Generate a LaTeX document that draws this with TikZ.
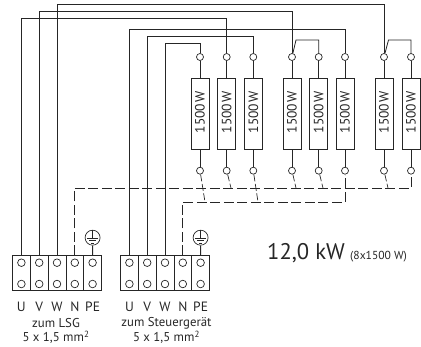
\documentclass[tikz,border=0pt]{standalone}
\usepackage{fontspec}
\setmainfont{PT Sans}
\tikzset{
  x=1pt,y=-1pt,
  wire/.style={draw=black!85,line width=0.8pt},
  nwire/.style={draw=black!85,line width=0.7pt,dash pattern=on 10pt off 3.5pt},
  nstub/.style={draw=black!85,line width=0.7pt,dash pattern=on 7pt off 2.5pt},
  ringc/.style={circle,draw=black!85,fill=white,line width=0.7pt,inner sep=0pt,minimum size=7pt},
  heater/.style={rectangle,draw=black!85,fill=white,line width=0.8pt,minimum width=18pt,minimum height=71pt,inner sep=0pt},
  hlabel/.style={rotate=90,font=\fontsize{13.5}{14}\selectfont,text=black!85,inner sep=0pt},
  cell/.style={rectangle,draw=black!85,line width=0.7pt,minimum width=17.8pt,minimum height=35pt,inner sep=0pt},
  lab/.style={font=\fontsize{12.8}{13}\selectfont,text=black!85,inner sep=0pt},
  gnd/.style={circle,draw=black!85,line width=0.7pt,inner sep=0pt,minimum size=15pt},
}
\begin{document}
\begin{tikzpicture}
\useasboundingbox (0,0) rectangle (421,347);
% heaters
\foreach \n/\x in {1/200,2/226.7,3/253.3,4/292,5/318.7,6/345,7/384,8/411}{
  \node[heater] (h\n) at (\x,114) {};
  \node[hlabel] at (\x,112.5) {1500\kern1pt W};
  \node[ringc] (t\n) at (\x,57) {};
  \node[ringc] (b\n) at (\x,170.7) {};
  \draw[wire] (t\n) -- (h\n);
  \draw[wire] (h\n) -- (b\n);
}
% terminal blocks
\foreach \b/\x in {a/21.4,c/129.4}{
  \foreach \i/\d/\l in {1/0/U,2/17.8/V,3/35.6/W,4/53.4/N,5/71.2/PE}{
    \node[cell] (\b\i) at ({\x+\d},273.2) {};
    \node[ringc,minimum size=7.6pt] (\b\i u) at ({\x+\d},262.7) {};
    \node[ringc,minimum size=7.6pt] (\b\i d) at ({\x+\d},284) {};
    \node[lab,font=\fontsize{13.5}{14}\selectfont] (\b\i l) at ({\x+\d},306.5) {\l};
  }
}
\node[lab] (lsg) at (56,323) {zum LSG};
\node[lab] (lsgq) at (56,337) {5 x 1,5 mm\textsuperscript{2}};
\node[lab] (stg) at (166.5,323) {zum Steuergerät};
\node[lab] (stgq) at (166.5,337) {5 x 1,5 mm\textsuperscript{2}};
\node[anchor=west,inner sep=0pt,text=black!85,font=\fontsize{22.6}{24}\selectfont] (pw) at (267,253.5) {12,0 kW};
\node[anchor=west,inner sep=0pt,text=black!85,font=\fontsize{11.6}{12}\selectfont] (pwd) at (350,257) {(8x1500 W)};
% phase wires
\draw[wire] (a1.north) |- (21.4,18) -| (t2);
\draw[wire] (a2.north) |- (39.2,11) -| (t4);
\draw[wire] (a3.north) |- (57,4) -| (t7);
\draw[wire] (c1.north) |- (129.4,29) -| (t6);
\draw[wire] (c2.north) |- (147.2,36) -| (t3);
\draw[wire] (c3.north) |- (165,43) -| (t1);
% bridges
\draw[wire] (t4) -- (296,40) -| (t5);
\draw[wire] (t7) -- (388.5,40) -| (t8);
% earth
\foreach \b/\x in {a/92.6,c/200.6}{
  \node[gnd] (g\b) at (\x,237.7) {};
  \draw[wire] (g\b) -- (\b5.north);
  \draw[draw=black!85,line width=0.6pt] (g\b.north) -- (\x,238)
    (\x-5.5,238) -- (\x+5.5,238) (\x-3.5,240.5) -- (\x+3.5,240.5) (\x-1.5,243) -- (\x+1.5,243);
}
% neutral wires
\coordinate (n1) at (411,188);
\coordinate (n2) at (345,202);
\draw[nwire] (a4.north) |- (n1) -- (b8);
\draw[nwire] (c4.north) |- (n2) -- (b6);
\draw[nstub] (b1) -- (205,202);
\draw[nstub] (b3) -- (258,202);
\draw[nstub] (b2) -- (231,188);
\draw[nstub] (b4) -- (296,188);
\draw[nstub] (b5) -- (323,188);
\draw[nstub] (b7) -- (388,188);
\end{tikzpicture}
\end{document}
